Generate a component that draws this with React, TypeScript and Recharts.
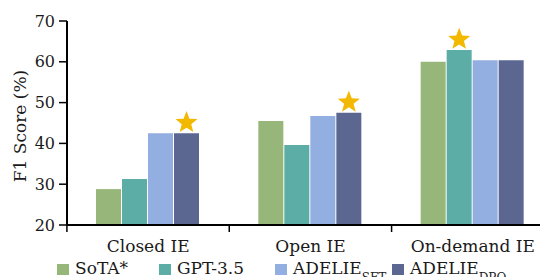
import { BarChart, Bar, XAxis, YAxis, LabelList } from 'recharts'

const categories = ['Closed IE', 'Open IE', 'On-demand IE']
const sota = [28.8, 45.5, 60.0]
const gpt = [31.3, 39.6, 62.9]
const sft = [42.5, 46.7, 60.4]
const dpo = [42.5, 47.5, 60.4]
// which series got the star in each group
const best = ['dpo', 'dpo', 'gpt']
const yTicks = [20, 30, 40, 50, 60, 70]

const series = [
  { key: 'sota', name: 'SoTA*', sub: '', color: '#97b77a', vals: sota },
  { key: 'gpt', name: 'GPT-3.5', sub: '', color: '#5cada6', vals: gpt },
  { key: 'sft', name: 'ADELIE', sub: 'SFT', color: '#93aee1', vals: sft },
  { key: 'dpo', name: 'ADELIE', sub: 'DPO', color: '#5b6790', vals: dpo },
]

const data = categories.map((c, i) => {
  const row: any = { cat: c }
  series.forEach((s) => {
    row[s.key] = s.vals[i]
    row[s.key + 'Star'] = best[i] === s.key ? 1 : 0
  })
  return row
})

const FONT = '"DejaVu Serif", serif'
const BAND = 162.5

function starPoints(cx: number, cy: number, R: number, r: number) {
  const pts: string[] = []
  for (let k = 0; k < 10; k++) {
    const rad = k % 2 === 0 ? R : r
    const a = -Math.PI / 2 + (k * Math.PI) / 5
    pts.push(`${cx + rad * Math.cos(a)},${cy + rad * Math.sin(a)}`)
  }
  return pts.join(' ')
}

const Star = (props: any) => {
  const { x, y, width, value } = props
  if (!value) return null
  const cx = x + width / 2
  const cy = y - 10.5
  return <polygon points={starPoints(cx, cy, 11.6, 5)} fill="#f3b800" />
}

const XTick = (props: any) => {
  const { x, y, payload } = props
  return (
    <g>
      <line x1={x - BAND / 2} x2={x - BAND / 2} y1={y} y2={y + 7} stroke="#000" strokeWidth={1.5} />
      <text x={x} y={y + 27} textAnchor="middle" fontSize={17} fontFamily={FONT} fill="#1a1a1a">
        {payload.value}
      </text>
    </g>
  )
}

// legend square left edges (container px)
const legendX = [49, 151, 267, 384]

export default function App() {
  return (
    <div style={{ position: 'relative', width: 540, height: 269, overflow: 'hidden' }}>
      <BarChart
        width={546}
        height={269}
        data={data}
        margin={{ top: 13, right: 0, bottom: 22, left: 0 }}
        barCategoryGap={29}
        barGap={1}
      >
        <XAxis
          dataKey="cat"
          height={30}
          tickLine={false}
          tickSize={0}
          tickMargin={0}
          axisLine={{ stroke: '#000', strokeWidth: 2 }}
          tick={<XTick />}
          interval={0}
        />
        <YAxis
          width={59}
          domain={[20, 70]}
          ticks={yTicks}
          allowDataOverflow
          tickSize={8}
          tickMargin={4}
          axisLine={{ stroke: '#000', strokeWidth: 2 }}
          tickLine={{ stroke: '#000', strokeWidth: 1.5 }}
          tick={{ fontSize: 16, fontFamily: FONT, fill: '#1a1a1a' }}
          label={{
            content: (p: any) => {
              const vb = p.viewBox
              const cy = vb.y + vb.height / 2 + 3
              return (
                <text
                  x={18}
                  y={cy}
                  transform={`rotate(-90, 18, ${cy})`}
                  textAnchor="middle"
                  fontSize={17}
                  fontFamily={FONT}
                  fill="#1a1a1a"
                >
                  F1 Score (%)
                </text>
              )
            },
          }}
        />
        {series.map((s) => (
          <Bar key={s.key} dataKey={s.key} fill={s.color} isAnimationActive={false}>
            <LabelList dataKey={s.key + 'Star'} content={<Star />} />
          </Bar>
        ))}
      </BarChart>
      <svg
        width={540}
        height={269}
        style={{ position: 'absolute', left: 0, top: 0, pointerEvents: 'none' }}
      >
        {series.map((s, i) => (
          <g key={s.key}>
            <rect x={legendX[i]} y={256} width={12} height={11} fill={s.color} />
            <text x={legendX[i] + 18} y={266} fontSize={17} fontFamily={FONT} fill="#1a1a1a">
              {s.name}
              {s.sub && (
                <tspan fontSize={12} dy={7.5}>
                  {s.sub}
                </tspan>
              )}
            </text>
          </g>
        ))}
      </svg>
    </div>
  )
}
